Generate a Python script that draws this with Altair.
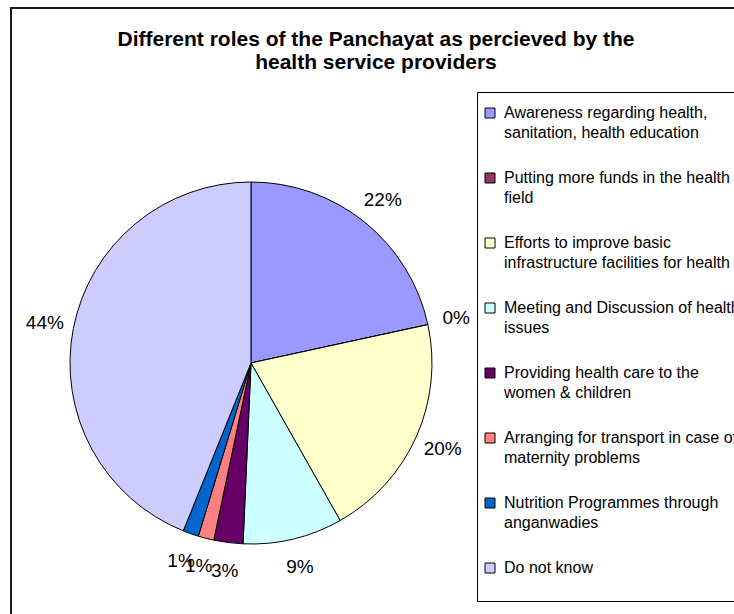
import json
import altair as alt
import pandas as pd

categories = [
    "Awareness regarding health, sanitation, health education",
    "Putting more funds in the health field",
    "Efforts to improve basic infrastructure facilities for health",
    "Meeting and Discussion of health issues",
    "Providing health care to the women & children",
    "Arranging for transport in case of maternity problems",
    "Nutrition Programmes through anganwadies",
    "Do not know",
]
legend_lines = [
    ["Awareness regarding health,", "sanitation, health education"],
    ["Putting more funds in the health", "field"],
    ["Efforts to improve basic", "infrastructure facilities for health"],
    ["Meeting and Discussion of health", "issues"],
    ["Providing health care to the", "women & children"],
    ["Arranging for transport in case of", "maternity problems"],
    ["Nutrition Programmes through", "anganwadies"],
    ["Do not know", ""],
]
percent = [21.6, 0.0, 20.2, 8.9, 2.6, 1.4, 1.4, 43.9]
colors = ["#9999FF", "#993366", "#FFFFCC", "#CCFFFF", "#660066", "#FF8080", "#0066CC", "#CCCCFF"]

title_lines = ["Different roles of the Panchayat as percieved by the", "health service providers"]

FONT = "Liberation Sans, Arial, sans-serif"

df = pd.DataFrame({"category": categories, "percent": percent, "idx": list(range(len(categories)))})
label_expr = json.dumps(dict(zip(categories, legend_lines))) + "[datum.label]"

base = alt.Chart(df).encode(
    theta=alt.Theta("percent:Q", stack=True),
    order=alt.Order("idx:Q"),
    x=alt.value(241),
    y=alt.value(356),
)

pie = base.mark_arc(outerRadius=181, stroke="black", strokeWidth=1).encode(
    color=alt.Color(
        "category:N",
        scale=alt.Scale(domain=categories, range=colors),
        sort=categories,
        legend=alt.Legend(
            title=" ",
            titleFontSize=4,
            titlePadding=4,
            orient="none",
            legendX=467,
            legendY=85,
            symbolType="square",
            symbolSize=100,
            symbolStrokeColor="black",
            symbolStrokeWidth=1,
            symbolOpacity=1,
            labelFont=FONT,
            labelFontSize=16,
            labelColor="black",
            labelLimit=600,
            labelOffset=6,
            labelBaseline="middle",
            labelExpr=label_expr,
            rowPadding=29,
            padding=5,
            strokeColor="black",
        ),
    )
)

labels = base.transform_calculate(
    label="format(datum.percent, '.0f') + '%'"
).mark_text(radius=210, fontSize=19, font=FONT, align="center", baseline="middle").encode(
    text="label:N",
    color=alt.value("black"),
)

frame_df = pd.DataFrame({"k": [0]})
top_rule = alt.Chart(frame_df).mark_rule(color="#1a1a1a", strokeWidth=2).encode(
    x=alt.value(0), x2=alt.value(724), y=alt.value(1)
)
left_rule = alt.Chart(frame_df).mark_rule(color="#1a1a1a", strokeWidth=2).encode(
    x=alt.value(1), y=alt.value(0), y2=alt.value(607)
)

chart = (
    alt.layer(top_rule, left_rule, pie, labels)
    .properties(
        width=724,
        height=607,
        autosize="none",
        padding={"left": 10, "top": 7, "right": 0, "bottom": 0},
        background="white",
        title=alt.TitleParams(
            text=title_lines,
            font=FONT,
            fontSize=21,
            fontWeight="bold",
            color="black",
            lineHeight=23,
            anchor="middle",
            frame="group",
            orient="top",
            baseline="top",
            offset=-67,
            dx=4,
        ),
    )
    .configure(style={"guide-label": {"lineHeight": 20}})
    .configure_view(strokeWidth=0)
    .configure_legend(strokeWidth=1)
)

chart.save("out.html", embed_options={"renderer": "svg", "actions": False})
